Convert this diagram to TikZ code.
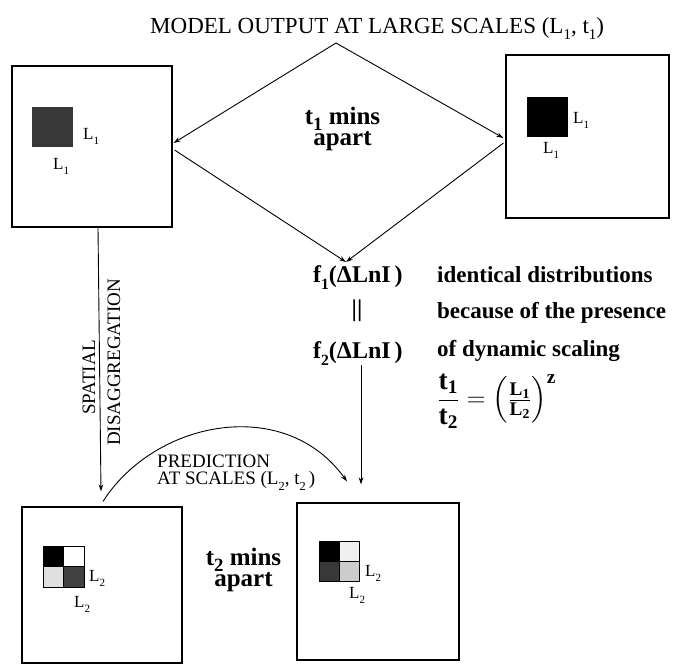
\documentclass[tikz,border=0pt]{standalone}
\usepackage{amsmath}
\usepackage{fontspec}
\setmainfont{Liberation Serif}
\usetikzlibrary{arrows.meta,calc}
\newcommand{\dn}[1]{\raisebox{-0.3em}{\scalebox{0.65}{#1}}}
\newcommand{\dnb}[1]{\raisebox{-0.24em}{\scalebox{0.75}{#1}}}
\tikzset{
  frame/.style={draw, line width=1.1pt, inner sep=0pt, fill=white},
  arr/.style={-{Stealth[length=7pt,width=4.5pt]}, line width=0.9pt},
  lab/.style={font=\fontsize{17}{17}\selectfont, inner sep=0pt, anchor=base west},
  bigb/.style={font=\bfseries\fontsize{25}{21}\selectfont, align=center, inner sep=0pt},
  txtb/.style={font=\bfseries\fontsize{23}{23}\selectfont, inner sep=0pt, anchor=base west},
  capt/.style={font=\fontsize{19}{17}\selectfont, inner sep=0pt},
  cell/.style={draw, line width=0.8pt}
}
\begin{document}
\begin{tikzpicture}[x=1pt,y=-1pt]
\useasboundingbox (0,0) rectangle (684,665);
% title
\node[inner sep=0pt, anchor=base west, font=\fontsize{23}{23}\selectfont] (title) at (150,33)
  {MODEL OUTPUT AT LARGE SCALES (L\dn{1}, t\dn{1})};
\coordinate (dtop) at (336,43);
\coordinate (dbot) at (346,262);
% boxes
\node[frame, minimum width=160pt, minimum height=161pt] (boxA) at (92,146.5) {};
\node[frame, minimum width=163pt, minimum height=163pt] (boxB) at (587.5,136.5) {};
\node[frame, minimum width=160pt, minimum height=156pt] (boxC) at (102,585) {};
\node[frame, minimum width=162pt, minimum height=157pt] (boxD) at (378,581.5) {};
% squares
\node[fill=black!78, inner sep=0pt, minimum width=41pt, minimum height=40pt] (sqA) at (52.5,127) {};
\node[fill=black, inner sep=0pt, minimum width=41pt, minimum height=40pt] (sqB) at (547.5,117) {};
% grid C
\fill[black] (43,546) rectangle (63.5,566.5);
\fill[black!12] (43,566.5) rectangle (63.5,587);
\fill[black!75] (63.5,566.5) rectangle (84,587);
\draw[cell] (43,546) rectangle (84,587) (63.5,546) -- (63.5,587) (43,566.5) -- (84,566.5);
% grid D
\fill[black] (319,541) rectangle (339,561);
\fill[black!6] (339,541) rectangle (359,561);
\fill[black!78] (319,561) rectangle (339,581);
\fill[black!20] (339,561) rectangle (359,581);
\draw[cell] (319,541) rectangle (359,581) (339,541) -- (339,581) (319,561) -- (359,561);
% labels
\node[lab] (lA1) at (83,139) {L\dn{1}};
\node[lab] (lA2) at (53,169) {L\dn{1}};
\node[lab] (lB1) at (573,123) {L\dn{1}};
\node[lab] (lB2) at (543,153) {L\dn{1}};
\node[lab] (lC1) at (89,581) {L\dn{2}};
\node[lab] (lC2) at (74,607) {L\dn{2}};
\node[lab] (lD1) at (365,576) {L\dn{2}};
\node[lab] (lD2) at (349,598) {L\dn{2}};
% mins apart
\node[bigb] (tone) at (342.5,129) {t\dnb{1} mins\\apart};
\node[bigb] (ttwo) at (243.5,570) {t\dnb{2} mins\\apart};
% f1, f2
\node[txtb, font=\bfseries\fontsize{24}{24}\selectfont] (f1) at (313,282) {f\dn{1}(ΔLnI\,)};
\node[inner sep=0pt, font=\bfseries\fontsize{24}{24}\selectfont] (eqs) at (357,311) {||};
\node[txtb, font=\bfseries\fontsize{24}{24}\selectfont] (f2) at (313,358) {f\dn{2}(ΔLnI\,)};
\node[txtb] (i1) at (437,282) {identical distributions};
\node[txtb] (i2) at (437,318) {because of the presence};
\node[txtb] (i3) at (437,356) {of dynamic scaling};
\node[inner sep=0pt, anchor=west, font=\fontsize{22}{26}\selectfont] (eq) at (437,401)
  {\scalebox{1.25}{$\displaystyle \frac{\mathbf{t}_{\mathbf{1}}}{\mathbf{t}_{\mathbf{2}}} \;\mathbf{=}\; \Bigl(\tfrac{\mathbf{L}_{\mathbf{1}}}{\mathbf{L}_{\mathbf{2}}}\Bigr)^{\mathbf{z}}$}};
% rotated caption
\node[capt, rotate=90, anchor=base] (sp) at (95,377.5) {SPATIAL};
\node[capt, rotate=90, anchor=base] (dis) at (120,362.5) {DISAGGREGATION};
% prediction
\node[capt, align=left, anchor=north west] (pred) at (157,455) {PREDICTION\\AT SCALES (L\dn{2}, t\dn{2}\,)};
% connectors
\draw[arr] (dtop) -- ($(boxA.east)+(1,-3.5)$);
\draw[arr] (dtop) -- ($(boxB.west)+(-2,1.5)$);
\draw[arr] ($(boxA.east)+(2,3.5)$) -- (dbot);
\draw[arr] ($(boxB.west)+(-2,6.5)$) -- (dbot);
\draw[arr] ($(boxA.south)+(6,0)$) -- ($(boxC.north)+(-1,-15)$);
\draw[arr] ($(boxC.north)+(1,-5)$) .. controls (155,420) and (285,395) .. ($(boxD.north)+(-31,-21)$);
\coordinate (f2b) at (361,365);
\draw[arr] (f2b) -- ($(boxD.north)+(-17,-18)$);
\end{tikzpicture}
\end{document}
